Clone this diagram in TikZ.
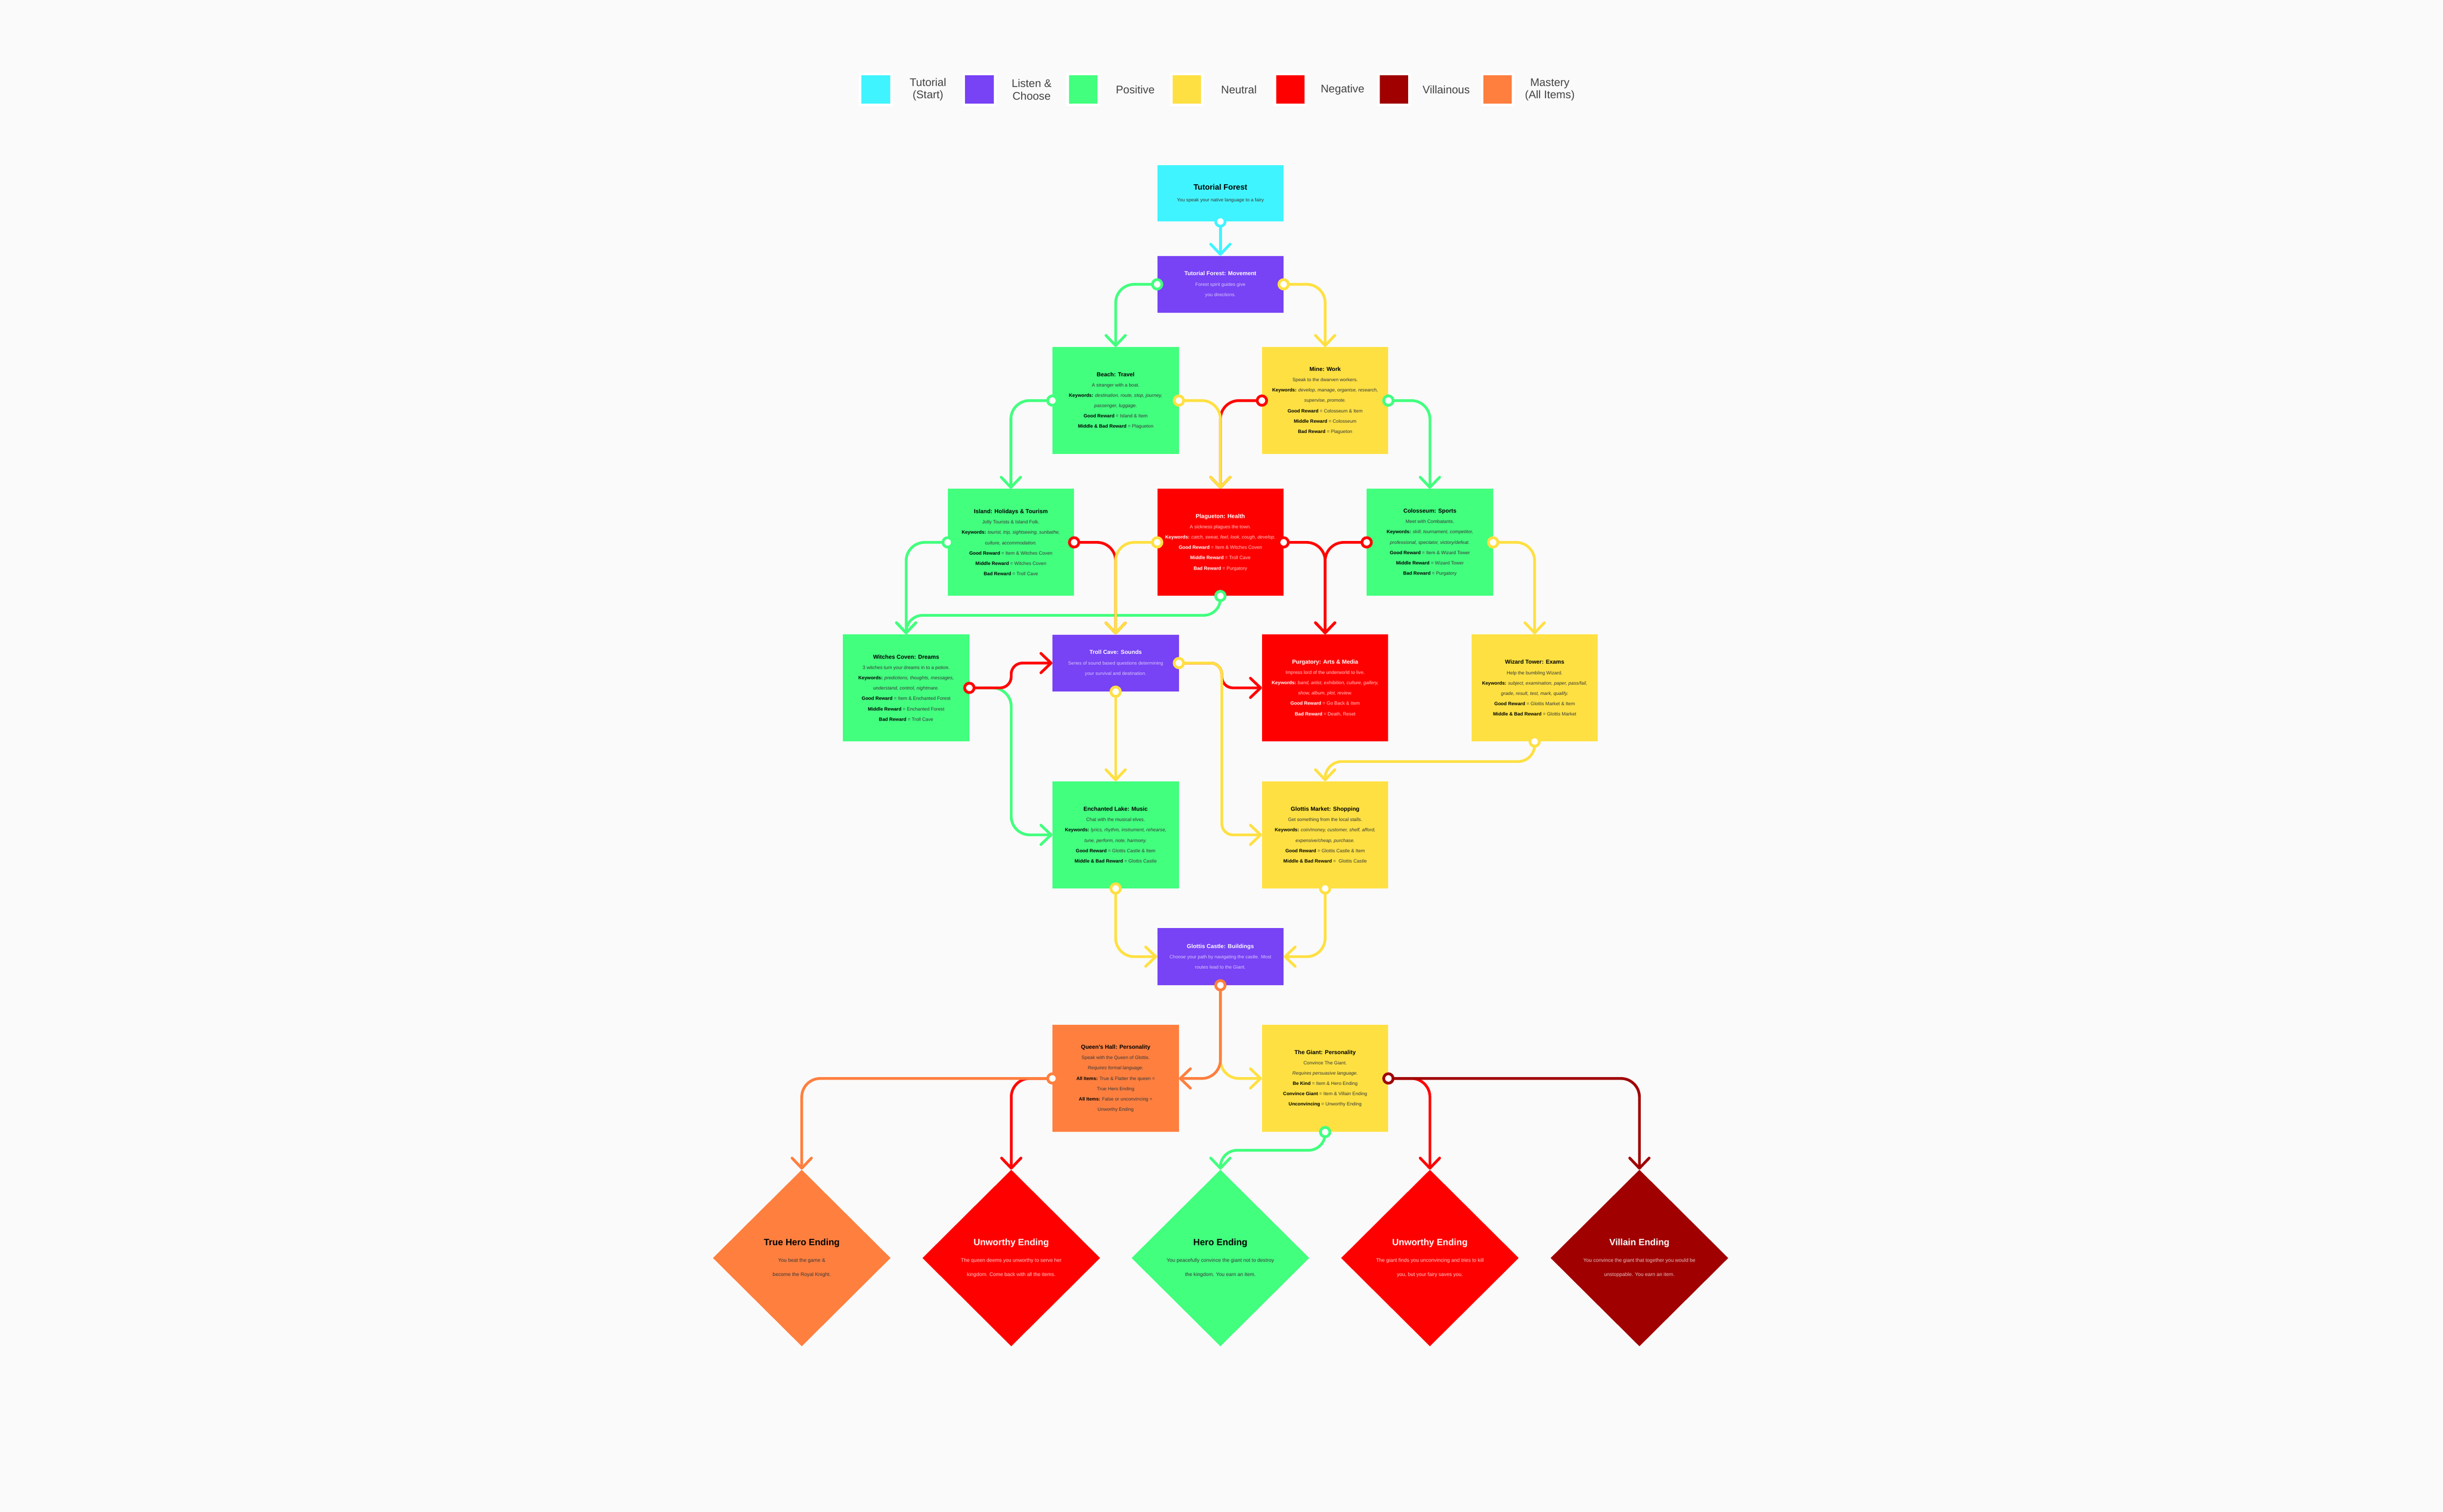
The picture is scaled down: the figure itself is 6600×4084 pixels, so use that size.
\documentclass[tikz,border=0pt]{standalone}
\usepackage{fontspec}
\setmainfont{Liberation Sans}
\usetikzlibrary{arrows.meta,shapes.geometric}

\definecolor{bgc}{HTML}{FAFAFA}
\definecolor{cTut}{HTML}{40F4FF}
\definecolor{cLis}{HTML}{7842F5}
\definecolor{cPos}{HTML}{42FF7E}
\definecolor{cNeu}{HTML}{FFE042}
\definecolor{cNeg}{HTML}{FF0000}
\definecolor{cVil}{HTML}{A00000}
\definecolor{cMas}{HTML}{FF7F3F}
\definecolor{legtext}{HTML}{444444}
\colorlet{strong}{black}

\newcommand{\ttl}[1]{{\fontsize{8.8}{10}\selectfont\bfseries\color{strong}#1}}
\newcommand{\etl}[1]{{\fontsize{14}{16}\selectfont\bfseries\color{strong}#1}}
\newcommand{\lb}[1]{{\bfseries\color{strong}#1}}
\newcommand{\kw}{\lb{Keywords:}}

\tikzset{
  box/.style={rectangle, inner sep=0pt, minimum width=6.82cm, minimum height=5.78cm,
    align=center, font=\fontsize{7.3}{15.9}\selectfont},
  shortbox/.style={box, minimum height=3.08cm},
  ending/.style={diamond, aspect=1, inner sep=0pt, minimum width=9.6cm, minimum height=9.54cm,
    align=center, font=\fontsize{7.8}{21.5}\selectfont},
  darktext/.style={text=black!78, execute at begin node={\colorlet{strong}{black}}},
  lighttext/.style={text=#1, execute at begin node={\colorlet{strong}{white}}},
  swatch/.style={rectangle, inner sep=0pt, minimum size=1.68cm, draw=white, line width=0.14cm},
  leglab/.style={align=center, text=legtext, font=\fontsize{17}{19}\selectfont},
  link/.style={line width=4.2pt, rounded corners=1cm,
    -{Straight Barb[length=0.55cm,width=1.05cm,round]}},
  ring/.style={fill=white, line width=4.2pt},
}

\begin{document}
\begin{tikzpicture}[x=0.02cm, y=-0.02cm]
  \useasboundingbox (0,0) rectangle (6600,4084);
  \fill[bgc] (0,0) rectangle (6600,4084);

  % legend
  \foreach \c/\t [count=\i from 0] in {cTut/{Tutorial\\(Start)}, cLis/{Listen \&\\Choose}, cPos/Positive,
      cNeu/Neutral, cNeg/Negative, cVil/Villainous, cMas/{Mastery\\(All Items)}}{
    \node[swatch, fill=\c] (sw\i) at ({2366+280*\i},242) {};
    \node[leglab] (lab\i) at ({2507+280*\i},242) {\t};
  }

  % rooms
  \node[shortbox, fill=cTut, darktext, minimum height=3.04cm] (tut) at (3297,522)
    {{\fontsize{11.9}{12}\selectfont\bfseries\color{black}Tutorial Forest}\\[2pt]You speak your native language to a fairy};
  \node[shortbox, fill=cLis, lighttext=white!72!cLis] (move) at (3297,768)
    {\ttl{Tutorial Forest: Movement}\\Forest spirit guides give\\you directions.};

  \node[box, fill=cPos, darktext] (beach) at (3014,1082)
    {\ttl{Beach: Travel}\\A stranger with a boat.\\\kw{} \textit{destination, route, stop, journey,}\\\textit{passenger, luggage.}\\
     \lb{Good Reward} = Island \& Item\\\lb{Middle \& Bad Reward} = Plagueton};
  \node[box, fill=cNeu, darktext] (mine) at (3580,1082)
    {\ttl{Mine: Work}\\Speak to the dwarven workers.\\\kw{} \textit{develop, manage, organise, research,}\\\textit{supervise, promote.}\\
     \lb{Good Reward} = Colosseum \& Item\\\lb{Middle Reward} = Colosseum\\\lb{Bad Reward} = Plagueton};

  \node[box, fill=cPos, darktext] (island) at (2731,1465)
    {\ttl{Island: Holidays \& Tourism}\\Jolly Tourists \& Island Folk.\\\kw{} \textit{tourist, trip, sightseeing, sunbathe,}\\\textit{culture, accommodation.}\\
     \lb{Good Reward} = Item \& Witches Coven\\\lb{Middle Reward} = Witches Coven\\\lb{Bad Reward} = Troll Cave};
  \node[box, fill=cNeg, lighttext=white!78!cNeg] (plag) at (3297,1465)
    {\ttl{Plagueton: Health}\\A sickness plagues the town.\\\kw{} \textit{catch, sweat, feel, look, cough, develop.}\\
     \lb{Good Reward} = Item \& Witches Coven\\\lb{Middle Reward} = Troll Cave\\\lb{Bad Reward} = Purgatory};
  \node[box, fill=cPos, darktext] (colo) at (3863,1465)
    {\ttl{Colosseum: Sports}\\Meet with Combatants.\\\kw{} \textit{skill, tournament, competitor,}\\\textit{professional, spectator, victory/defeat.}\\
     \lb{Good Reward} = Item \& Wizard Tower\\\lb{Middle Reward} = Wizard Tower\\\lb{Bad Reward} = Purgatory};

  \node[box, fill=cPos, darktext] (witch) at (2448,1858)
    {\ttl{Witches Coven: Dreams}\\3 witches turn your dreams in to a potion.\\\kw{} \textit{predictions, thoughts, messages,}\\\textit{understand, control, nightmare.}\\
     \lb{Good Reward} = Item \& Enchanted Forest\\\lb{Middle Reward} = Enchanted Forest\\\lb{Bad Reward} = Troll Cave};
  \node[shortbox, fill=cLis, lighttext=white!72!cLis] (troll) at (3014,1791)
    {\ttl{Troll Cave: Sounds}\\Series of sound based questions determining\\your survival and destination.};
  \node[box, fill=cNeg, lighttext=white!78!cNeg] (purg) at (3580,1858)
    {\ttl{Purgatory: Arts \& Media}\\Impress lord of the underworld to live.\\\kw{} \textit{band, artist, exhibition, culture, gallery,}\\\textit{show, album, plot, review.}\\
     \lb{Good Reward} = Go Back \& Item\\\lb{Bad Reward} = Death, Reset};
  \node[box, fill=cNeu, darktext] (wiz) at (4146,1858)
    {\ttl{Wizard Tower: Exams}\\Help the bumbling Wizard.\\\kw{} \textit{subject, examination, paper, pass/fail,}\\\textit{grade, result, test, mark, qualify.}\\
     \lb{Good Reward} = Glottis Market \& Item\\\lb{Middle \& Bad Reward} = Glottis Market};

  \node[box, fill=cPos, darktext] (lake) at (3014,2255)
    {\ttl{Enchanted Lake: Music}\\Chat with the musical elves.\\\kw{} \textit{lyrics, rhythm, instrument, rehearse,}\\\textit{tune, perform, note, harmony.}\\
     \lb{Good Reward} = Glottis Castle \& Item\\\lb{Middle \& Bad Reward} = Glottis Castle};
  \node[box, fill=cNeu, darktext] (market) at (3580,2255)
    {\ttl{Glottis Market: Shopping}\\Get something from the local stalls.\\\kw{} \textit{coin/money, customer, shelf, afford,}\\\textit{expensive/cheap, purchase.}\\
     \lb{Good Reward} = Glottis Castle \& Item\\\lb{Middle \& Bad Reward} = \ Glottis Castle};

  \node[shortbox, fill=cLis, lighttext=white!72!cLis] (castle) at (3297,2584)
    {\ttl{Glottis Castle: Buildings}\\Choose your path by navigating the castle. Most\\routes lead to the Giant.};

  \node[box, fill=cMas, darktext] (queen) at (3014,2913)
    {\ttl{Queen’s Hall: Personality}\\Speak with the Queen of Glottis.\\\textit{Requires formal language.}\\
     \lb{All Items:} True \& Flatter the queen =\\True Hero Ending\\\lb{All Items:} False or unconvincing =\\Unworthy Ending};
  \node[box, fill=cNeu, darktext] (giant) at (3580,2913)
    {\ttl{The Giant: Personality}\\Convince The Giant.\\\textit{Requires persuasive language.}\\
     \lb{Be Kind} = Item \& Hero Ending\\\lb{Convince Giant} = Item \& Villain Ending\\\lb{Unconvincing} = Unworthy Ending};

  % endings
  \node[ending, fill=cMas, darktext] (thero) at (2166,3398)
    {\etl{True Hero Ending}\\[4pt]You beat the game \&\\become the Royal Knight.};
  \node[ending, fill=cNeg, lighttext=white!80!cNeg] (unwa) at (2732,3398)
    {\etl{Unworthy Ending}\\[4pt]The queen deems you unworthy to serve her\\kingdom. Come back with all the items.};
  \node[ending, fill=cPos, darktext] (hero) at (3297,3398)
    {\etl{Hero Ending}\\[4pt]You peacefully convince the giant not to destroy\\the kingdom. You earn an item.};
  \node[ending, fill=cNeg, lighttext=white!80!cNeg] (unwb) at (3863,3398)
    {\etl{Unworthy Ending}\\[4pt]The giant finds you unconvincing and tries to kill\\you, but your fairy saves you.};
  \node[ending, fill=cVil, lighttext=white!75!cVil] (villain) at (4429,3398)
    {\etl{Villain Ending}\\[4pt]You convince the giant that together you would be\\unstoppable. You earn an item.};

  % paths
  \draw[link, color=cTut] (tut.south) -- (move.north);
  \draw[link, color=cPos] (move.west) -| (beach.north);
  \draw[link, color=cNeu] (move.east) -| (mine.north);
  \draw[link, color=cPos] (beach.west) -| (island.north);
  \draw[link, color=cNeg] (mine.west) -| (plag.north);
  \draw[link, color=cNeu] (beach.east) -| (plag.north);
  \draw[link, color=cPos] (mine.east) -| (colo.north);
  \draw[link, color=cPos] (island.west) -| (witch.north);
  \draw[link, color=cPos, rounded corners=0.9cm] (plag.south) |- (witch.north |- 0,1662) -- (witch.north);
  \draw[link, color=cNeg] (island.east) -| (troll.north);
  \draw[link, color=cNeu] (plag.west) -| (troll.north);
  \draw[link, color=cNeg] (plag.east) -| (purg.north);
  \draw[link, color=cNeg] (colo.west) -| (purg.north);
  \draw[link, color=cNeu] (colo.east) -| (wiz.north);
  \draw[link, color=cPos] (witch.east) -- ++(113,0) |- (lake.west);
  \draw[link, color=cNeg, rounded corners=0.6cm] (witch.east) -- ++(113,0) |- (troll.west);
  \draw[link, color=cNeu] (troll.south) -- (lake.north);
  \draw[link, color=cNeg, rounded corners=0.6cm] (troll.east) -- ++(116,0) |- (purg.west);
  \draw[link, color=cNeu, rounded corners=0.6cm] (troll.east) -- ++(116,0) |- (market.west);
  \draw[link, color=cNeu, rounded corners=0.9cm] (wiz.south) |- (market.north |- 0,2057) -- (market.north);
  \draw[link, color=cNeu] (lake.south) |- (castle.west);
  \draw[link, color=cNeu] (market.south) |- (castle.east);
  \draw[link, color=cNeu] (castle.south) |- (giant.west);
  \draw[link, color=cMas] (castle.south) |- (queen.east);
  \draw[link, color=cNeg] (queen.west) -| (unwa.north);
  \draw[link, color=cMas] (queen.west) -| (thero.north);
  \draw[link, color=cPos, rounded corners=0.9cm] (giant.south) |- (hero.north |- 0,3107) -- (hero.north);
  \draw[link, color=cNeg] (giant.east) -| (unwb.north);
  \draw[link, color=cVil] (giant.east) -| (villain.north);

  % start rings
  \foreach \p/\c in {tut.south/cTut, move.west/cPos, move.east/cNeu, beach.west/cPos, beach.east/cNeu,
      mine.west/cNeg, mine.east/cPos, island.west/cPos, island.east/cNeg, plag.west/cNeu, plag.east/cNeg,
      plag.south/cPos, colo.west/cNeg, colo.east/cNeu, witch.east/cNeg, troll.east/cNeu, troll.south/cNeu,
      wiz.south/cNeu, lake.south/cNeu, market.south/cNeu, castle.south/cMas, queen.west/cMas,
      giant.east/cVil, giant.south/cPos}
    \draw[ring, draw=\c] (\p) circle[radius=0.255cm];
\end{tikzpicture}
\end{document}
